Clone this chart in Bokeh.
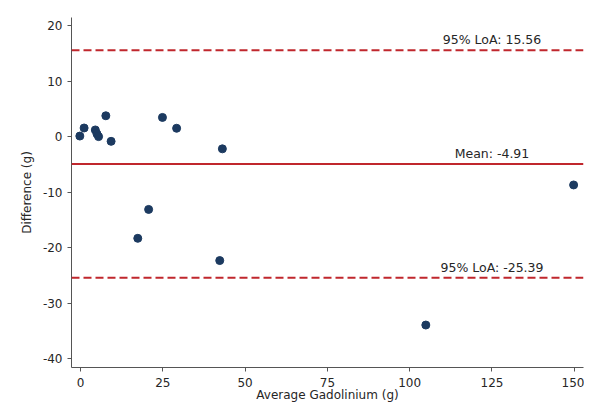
from bokeh.plotting import figure
from bokeh.models import Span, Label, FixedTicker, Range1d, CustomJSTickFormatter
from bokeh.embed import file_html
from bokeh.resources import INLINE

# Data (Bland-Altman plot)
avg_gd = [-0.2, 1.1, 4.5, 5.0, 5.5, 7.7, 9.3, 24.9, 29.2, 43.1, 20.7, 17.4, 42.3, 104.9, 149.8]
diff = [0.1, 1.55, 1.2, 0.5, 0.0, 3.75, -0.85, 3.45, 1.5, -2.2, -13.1, -18.3, -22.3, -33.9, -8.7]
mean_diff = -4.91
loa_upper = 15.56
loa_lower = -25.39
x_ticks = [0, 25, 50, 75, 100, 125, 150]
y_ticks = [-40, -30, -20, -10, 0, 10, 20]

FONT = "DejaVu Sans"
TXT = "#262626"
AX = "#555555"
RED = "#c0272d"
DOT = "#1c3a60"

p = figure(width=584, height=404, output_backend="svg", toolbar_location=None,
           x_range=Range1d(-2.73, 152.8), y_range=Range1d(-41.54, 21.43),
           min_border_left=71, min_border_right=1, min_border_top=17, min_border_bottom=36)
p.outline_line_color = None
p.grid.visible = False
p.background_fill_color = "white"
p.border_fill_color = "white"

for ax in (p.xaxis[0], p.yaxis[0]):
    ax.axis_line_color = AX
    ax.major_tick_line_color = AX
    ax.major_tick_out = 4
    ax.major_tick_in = 0
    ax.minor_tick_line_color = None
    ax.major_label_text_font = FONT
    ax.major_label_text_font_size = "12px"
    ax.major_label_text_color = TXT
    ax.axis_label_text_font = FONT
    ax.axis_label_text_font_size = "12px"
    ax.axis_label_text_font_style = "normal"
    ax.axis_label_text_color = TXT
    ax.formatter = CustomJSTickFormatter(code="return String(tick);")

p.xaxis.ticker = FixedTicker(ticks=x_ticks)
p.yaxis.ticker = FixedTicker(ticks=y_ticks)
p.xaxis.axis_label = "Average Gadolinium (g)"
p.yaxis.axis_label = "Difference (g)"
p.xaxis.major_label_standoff = 6
p.xaxis.axis_label_standoff = -2
p.yaxis.major_label_standoff = 5
p.yaxis.axis_label_standoff = 6

for loc, dash in ((loa_upper, "8 4"), (mean_diff, "solid"), (loa_lower, "8 4")):
    p.add_layout(Span(location=loc, dimension="width", line_color=RED,
                      line_width=2, line_dash=dash))

labels = [(loa_upper, f"95% LoA: {loa_upper:.2f}"),
          (mean_diff, f"Mean: {mean_diff:.2f}"),
          (loa_lower, f"95% LoA: {loa_lower:.2f}")]
for loc, txt in labels:
    p.add_layout(Label(x=125, y=loc, text=txt, text_align="center",
                       text_baseline="bottom", y_offset=3, text_font=FONT,
                       text_font_size="12.5px", text_color=TXT))

p.scatter(avg_gd, diff, size=8, fill_color=DOT, line_color=DOT)

open("out.html", "w").write(file_html(p, INLINE))
